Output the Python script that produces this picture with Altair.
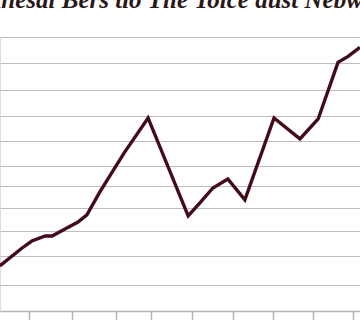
import altair as alt
import pandas as pd

# Series (x in month-like units, y in value units)
months = [0.28, 0.83, 1.07, 1.40, 1.57, 1.89, 2.21, 2.43, 2.75, 3.35, 3.94,
          4.93, 5.22, 5.54, 5.91, 6.33, 7.05, 7.69, 8.14, 8.63, 8.88, 9.17]
values = [18.1, 25.3, 28.1, 30.1, 30.1, 32.9, 35.7, 38.6, 47.8, 63.5, 77.5,
          38.2, 43.4, 49.4, 53.0, 44.6, 77.5, 69.1, 77.1, 99.8, 102.2, 105.8]
x_ticks = [1, 2.06, 3.15, 4.01, 5.02, 6.04, 7.02, 8.01, 9]
y_grid = [10.4, 22.1, 32.1, 41.4, 50.2, 58.2, 68.3, 78.3, 88.8, 99.6, 110]
title_text = ["Anesal Bers tlo Tlie Tolce aust Nebwa"]

df = pd.DataFrame({"month": months, "value": values})
tdf = pd.DataFrame({"title": title_text})

line = alt.Chart(df).mark_line(
    color="#420b18", strokeWidth=3.4, strokeJoin="miter", clip=False
).encode(
    x=alt.X("month:Q", scale=alt.Scale(domain=[0.284, 9.173], nice=False, zero=False),
            axis=alt.Axis(values=x_ticks, labels=False, title=None, grid=False,
                          domainColor="#b5b5b5", domainWidth=1.5,
                          tickColor="#b5b5b5", tickWidth=1.5, tickSize=14)),
    y=alt.Y("value:Q", scale=alt.Scale(domain=[0, 110], nice=False),
            axis=alt.Axis(values=y_grid, labels=False, ticks=False, domain=False,
                          title=None, grid=True, gridColor="#bdbdbd", gridWidth=1.2)),
)

title = alt.Chart(tdf).mark_text(
    font="Liberation Serif", fontSize=25, fontWeight="bold", fontStyle="italic",
    color="#2a1818", align="center", baseline="alphabetic", clip=False
).encode(
    text="title:N",
    x=alt.value(180),
    y=alt.value(-29),
)

chart = alt.layer(line, title).properties(
    width=360, height=274,
    autosize=alt.AutoSizeParams(type="none"),
    padding={"left": 0, "top": 37, "right": 0, "bottom": 9},
).configure_view(stroke=None).configure(background="#ffffff")

chart.save("out.html", embed_options={"renderer": "svg", "actions": False})
